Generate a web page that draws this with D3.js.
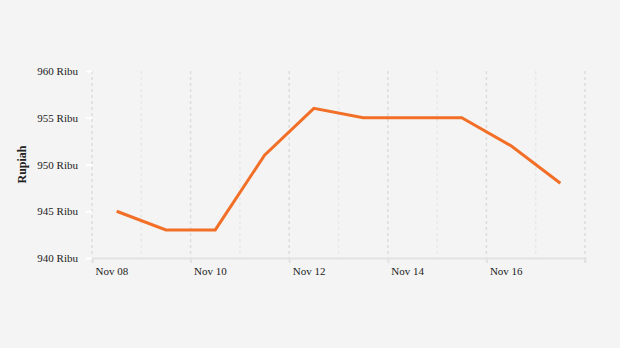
<!DOCTYPE html>
<html>
<head>
<meta charset="utf-8">
<script src="https://cdn.jsdelivr.net/npm/d3@7"></script>
<style>
  body { margin: 0; background: #f4f4f4; }
  svg { display: block; }
  text { font-family: "Liberation Serif", "Times New Roman", serif; fill: #222; }
</style>
</head>
<body>
<script>
// daily prices, sampled at midday
const dates = ['2023-11-08', '2023-11-09', '2023-11-10', '2023-11-11', '2023-11-12',
  '2023-11-13', '2023-11-14', '2023-11-15', '2023-11-16', '2023-11-17']
const prices = [945, 943, 943, 951, 956, 955, 955, 955, 952, 948]
const yTicks = [940, 945, 950, 955, 960]

const W = 620, H = 348
const margin = {top: 71, right: 35, bottom: 90, left: 92}
const width = W - margin.left - margin.right
const height = H - margin.top - margin.bottom

const parse = d3.timeParse('%Y-%m-%d')
const data = dates.map((d, i) => ({date: d3.timeHour.offset(parse(d), 12), value: prices[i]}))

const svg = d3.select('body').append('svg')
  .attr('width', W)
  .attr('height', H)

const g = svg.append('g')
  .attr('transform', `translate(${margin.left},${margin.top})`)

const x = d3.scaleTime()
  .domain([parse('2023-11-08'), parse('2023-11-18')])
  .range([0, width])
const y = d3.scaleLinear().domain([940, 960]).range([height, 0])

// vertical grid, every day
const days = d3.timeDay.range(parse('2023-11-08'), d3.timeDay.offset(parse('2023-11-18'), 1))
g.append('g').selectAll('line')
  .data(days)
  .join('line')
  .attr('x1', d => x(d)).attr('x2', d => x(d))
  .attr('y1', 0).attr('y2', height)
  .attr('stroke', (d, i) => i % 2 === 0 ? '#dcdcdc' : '#e8e8e8')
  .attr('stroke-width', 1.5)
  .attr('stroke-dasharray', '3,3')

// bottom axis
const xaxis = d3.axisBottom(x)
  .tickValues(days.filter((d, i) => i % 2 === 0 && i < days.length - 1))
  .tickFormat(d3.timeFormat('%b %d'))
  .tickSize(5)
const gx = g.append('g')
  .attr('transform', `translate(0,${height})`)
  .call(xaxis)
gx.select('.domain').attr('stroke', '#e2e2e2').attr('stroke-width', 2)
gx.selectAll('.tick line').attr('stroke', '#e2e2e2').attr('stroke-width', 2)
gx.selectAll('.tick text')
  .attr('text-anchor', 'start')
  .attr('x', 3)
  .attr('y', 9)
  .style('font-size', '11px')
gx.append('line')
  .attr('x1', width).attr('x2', width).attr('y1', 0).attr('y2', 5)
  .attr('stroke', '#e2e2e2').attr('stroke-width', 2)

// left axis
const yaxis = d3.axisLeft(y)
  .tickValues(yTicks)
  .tickFormat(d => d + ' Ribu')
  .tickSize(6)
const gy = g.append('g').call(yaxis)
gy.select('.domain').remove()
gy.selectAll('.tick line').attr('stroke', '#ffffff').attr('stroke-width', 2)
gy.selectAll('.tick text')
  .attr('x', -14)
  .style('font-size', '11px')

svg.append('text')
  .attr('transform', `translate(26,${margin.top + height / 2}) rotate(-90)`)
  .attr('text-anchor', 'middle')
  .style('font-size', '12px')
  .style('font-weight', 'bold')
  .text('Rupiah')

const line = d3.line()
  .x(d => x(d.date))
  .y(d => y(d.value))

g.append('path')
  .datum(data)
  .attr('fill', 'none')
  .attr('stroke', '#f26f27')
  .attr('stroke-width', 3)
  .attr('d', line)
</script>
</body>
</html>
